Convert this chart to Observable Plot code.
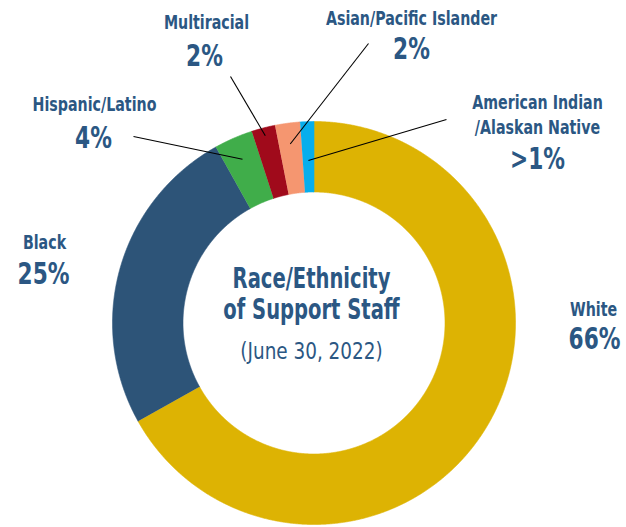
<!DOCTYPE html>
<html>
<head>
<meta charset="utf-8">
<script src="https://cdn.jsdelivr.net/npm/d3@7"></script>
<script src="https://cdn.jsdelivr.net/npm/@observablehq/plot@0.6"></script>
<style>
  html, body { margin: 0; padding: 0; background: #ffffff; }
</style>
</head>
<body>
<div id="chart"></div>
<script>
// ---- Data ----
const categories = ["White", "Black", "Hispanic/Latino", "Multiracial", "Asian/Pacific Islander", "American Indian/Alaskan Native"];
const shares = [66.9, 25.0, 3.1, 1.9, 2.0, 1.1];
const pctLabels = ["66%", "25%", "4%", "2%", "2%", ">1%"];
const nameLines = [["White"], ["Black"], ["Hispanic/Latino"], ["Multiracial"], ["Asian/Pacific Islander"], ["American Indian", "/Alaskan Native"]];
const sliceColors = ["#DDB303", "#2D5478", "#40AD4A", "#A00A1B", "#F59670", "#06AEEC"];
const titleLines = ["Race/Ethnicity", "of Support Staff"];
const dateLine = "(June 30, 2022)";

// ---- Layout (pixels) ----
const W = 626, H = 527;
const cx = 313.5, cy = 322.5, R = 201.5, r0 = 131;
const textColor = "#2B5783";
const font = "'Liberation Sans Narrow', 'DejaVu Sans Condensed', Roboto, sans-serif";
// [nameX, nameBaselineY, pctX, pctBaselineY, leaderStartX, leaderStartY, leaderRadiusFrac]
const labelLayout = [
  [593, 315, 594, 348, null, null, null],
  [44, 248, 43, 283, null, null, null],
  [94, 110, 93, 147, 133, 136, 0.887],
  [206, 28, 204, 65, 230, 76, 0.96],
  [411, 24, 411, 58, 368, 43, 0.896],
  [537, 108, 537, 168, 446, 119, 0.807]
];

const rows = categories.map((c, i) => ({cat: c, share: shares[i]}));
const arcs = d3.pie().sort(null).value(d => d.share).startAngle(0).endAngle(2 * Math.PI)(rows);
const pt = (a, r) => [cx + r * Math.sin(a), cy - r * Math.cos(a)];

const poly = [];
arcs.forEach(a => {
  const n = Math.max(2, Math.ceil((a.endAngle - a.startAngle) / (Math.PI / 720)));
  for (let k = 0; k <= n; k++) {
    const t = a.startAngle + (a.endAngle - a.startAngle) * k / n;
    const [x, y] = pt(t, R);
    poly.push({cat: a.data.cat, x, y});
  }
  for (let k = n; k >= 0; k--) {
    const t = a.startAngle + (a.endAngle - a.startAngle) * k / n;
    const [x, y] = pt(t, r0);
    poly.push({cat: a.data.cat, x, y});
  }
});

const leaders = [];
const nameTexts = [];
const pctTexts = [];
arcs.forEach((a, i) => {
  const L = labelLayout[i];
  nameLines[i].forEach((ln, j) => {
    nameTexts.push({x: L[0], y: L[1] + j * 25, text: ln});
  });
  pctTexts.push({x: L[2], y: L[3], text: pctLabels[i]});
  if (L[4] != null) {
    const mid = (a.startAngle + a.endAngle) / 2;
    const [ex, ey] = pt(mid, R * L[6]);
    leaders.push({x1: L[4], y1: L[5], x2: ex, y2: ey});
  }
});

const centerTexts = [
  {x: cx - 2.5, y: 287, text: titleLines[0]},
  {x: cx - 2.5, y: 318, text: titleLines[1]}
];

const chart = Plot.plot({
  width: W,
  height: H,
  margin: 0,
  style: {background: "#ffffff", fontFamily: font},
  x: {domain: [0, W], range: [0, W], axis: null},
  y: {domain: [0, H], range: [0, H], axis: null},
  color: {domain: categories, range: sliceColors},
  marks: [
    Plot.line(poly, {x: "x", y: "y", z: "cat", fill: "cat", stroke: "cat", strokeWidth: 0.6, curve: "linear"}),
    Plot.link(leaders, {x1: "x1", y1: "y1", x2: "x2", y2: "y2", stroke: "#000000", strokeWidth: 1.1}),
    Plot.text(nameTexts, {x: "x", y: "y", text: "text", lineAnchor: "bottom", fontFamily: font, fontWeight: "bold", fontSize: 20, fill: textColor}),
    Plot.text(pctTexts, {x: "x", y: "y", text: "text", lineAnchor: "bottom", fontFamily: font, fontWeight: "bold", fontSize: 30.5, fill: textColor}),
    Plot.text(centerTexts, {x: "x", y: "y", text: "text", lineAnchor: "bottom", fontFamily: font, fontWeight: "bold", fontSize: 27.5, fill: textColor}),
    Plot.text([{x: cx - 2.5, y: 358, text: dateLine}], {x: "x", y: "y", text: "text", lineAnchor: "bottom", fontFamily: font, fontWeight: "normal", fontSize: 23, fill: textColor})
  ]
});
document.getElementById("chart").appendChild(chart);

// Emulate the condensed typeface by compressing glyphs horizontally
chart.querySelectorAll("text").forEach(t => {
  const cs = getComputedStyle(t);
  const factor = cs.fontWeight === "400" || cs.fontWeight === "normal" ? 0.89 : 0.79;
  const len = t.getComputedTextLength();
  if (len > 0) {
    t.setAttribute("textLength", (len * factor).toFixed(2));
    t.setAttribute("lengthAdjust", "spacingAndGlyphs");
  }
});
</script>
</body>
</html>
